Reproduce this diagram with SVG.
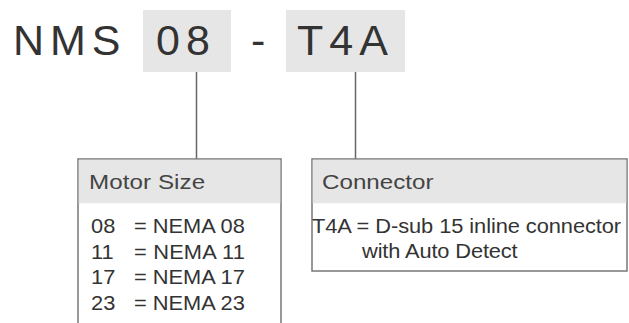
<svg xmlns="http://www.w3.org/2000/svg" width="629" height="323" viewBox="0 0 629 323">
  <style>
    .code { font-family: "Liberation Sans", Arial, sans-serif; font-size: 43px; fill: #333; letter-spacing: 6px; }
    .seg { fill: #e6e6e6; stroke: none; }
    .box { fill: #fff; stroke: #777; stroke-width: 1.5; }
    .hdr { fill: #e6e6e6; stroke: none; }
    .htxt { font-family: "Liberation Sans", Arial, sans-serif; font-size: 21px; fill: #444; }
    .btxt { font-family: "Liberation Sans", Arial, sans-serif; font-size: 19.5px; fill: #333; }
    .conn { stroke: #666; stroke-width: 1.5; fill: none; }
  </style>
  <rect width="629" height="323" fill="#fff"/>
  <g id="code">
    <rect class="seg" x="143" y="10" width="88" height="62"/>
    <rect class="seg" x="286" y="10" width="119" height="62"/>
    <text class="code" x="13" y="55">NMS</text>
    <text class="code" x="156" y="55">08</text>
    <text class="code" x="251" y="55">-</text>
    <text class="code" x="297" y="55">T4A</text>
  </g>
  <g id="connectors">
    <line class="conn" x1="196.5" y1="72" x2="196.5" y2="159"/>
    <line class="conn" x1="355.5" y1="72" x2="355.5" y2="159"/>
  </g>
  <g id="motor-size">
    <rect class="box" x="78" y="159" width="203" height="200"/>
    <rect class="hdr" x="78.75" y="159.75" width="201.5" height="43.5"/>
    <text class="htxt" transform="translate(89,189) scale(1.15,1)" textLength="101" lengthAdjust="spacing">Motor Size</text>
    <text class="btxt" transform="translate(91,233) scale(1.12,1)">08</text>
    <text class="btxt" transform="translate(134,233) scale(1.12,1)" textLength="99" lengthAdjust="spacing">= NEMA 08</text>
    <text class="btxt" transform="translate(91,258.5) scale(1.12,1)">11</text>
    <text class="btxt" transform="translate(134,258.5) scale(1.12,1)" textLength="99" lengthAdjust="spacing">= NEMA 11</text>
    <text class="btxt" transform="translate(91,284) scale(1.12,1)">17</text>
    <text class="btxt" transform="translate(134,284) scale(1.12,1)" textLength="99" lengthAdjust="spacing">= NEMA 17</text>
    <text class="btxt" transform="translate(91,309.5) scale(1.12,1)">23</text>
    <text class="btxt" transform="translate(134,309.5) scale(1.12,1)" textLength="99" lengthAdjust="spacing">= NEMA 23</text>
  </g>
  <g id="connector">
    <rect class="box" x="312" y="159" width="315" height="112"/>
    <rect class="hdr" x="312.75" y="159.75" width="313.5" height="43.5"/>
    <text class="htxt" transform="translate(322,189) scale(1.15,1)" textLength="97" lengthAdjust="spacing">Connector</text>
    <text class="btxt" transform="translate(312,233) scale(1.12,1)" textLength="276" lengthAdjust="spacing">T4A = D-sub 15 inline connector</text>
    <text class="btxt" transform="translate(362,258) scale(1.12,1)" textLength="139" lengthAdjust="spacing">with Auto Detect</text>
  </g>
</svg>
